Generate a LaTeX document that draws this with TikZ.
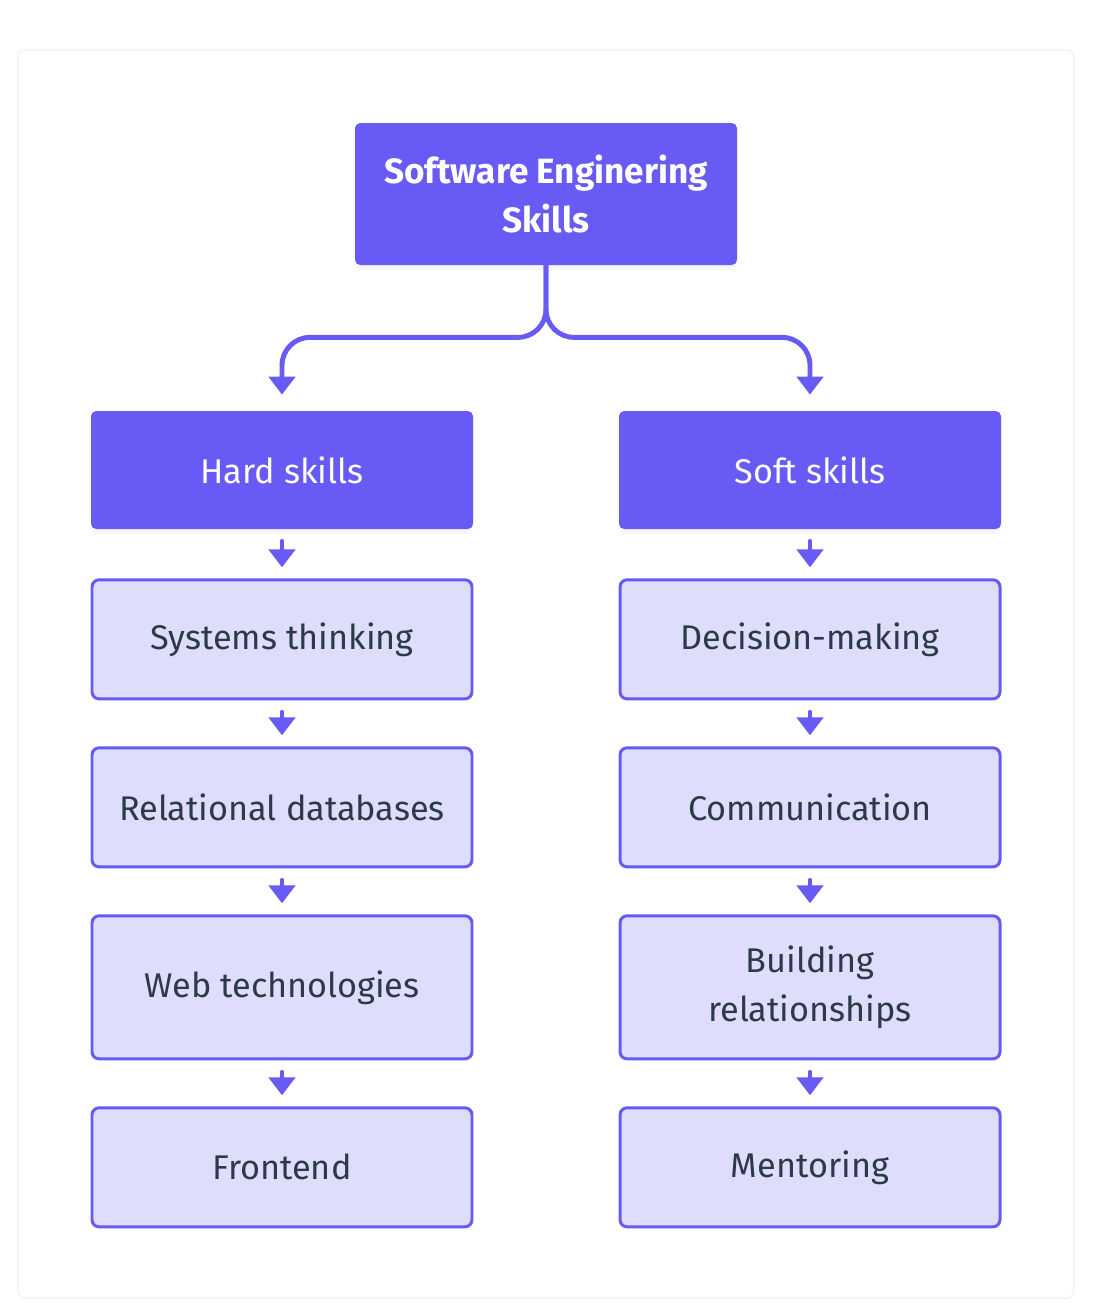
\documentclass[tikz,border=0pt]{standalone}
\usepackage{fontspec}
\setmainfont{Fira Sans}
\usetikzlibrary{positioning, arrows.meta, shadows}

\definecolor{skillblue}{HTML}{675AF5}
\definecolor{skilllight}{HTML}{DEDEFC}
\definecolor{skilltext}{HTML}{2C3A47}

\tikzset{
  topic/.style={rectangle, rounded corners=3pt, fill=skillblue, text=white,
    minimum width=7.64cm, minimum height=2.36cm, align=center,
    font=\fontsize{19.5}{27}\selectfont,
    drop shadow={opacity=0.07, shadow xshift=0pt, shadow yshift=-3pt}},
  skill/.style={rectangle, rounded corners=4pt, draw=skillblue, line width=1.7pt,
    fill=skilllight, text=skilltext, minimum width=7.6cm, minimum height=2.38cm,
    align=center, font=\fontsize{19.5}{27.5}\selectfont},
  tallskill/.style={skill, minimum height=2.86cm},
  link/.style={skillblue, line width=2.8pt, line cap=round,
    -{Triangle[width=0.52cm,length=0.36cm]},
    shorten <=0.24cm, shorten >=0.22cm}
}

\begin{document}
\begin{tikzpicture}[node distance=0.92cm]
  \useasboundingbox (0,0) rectangle (21.84,-26.32);
  \fill[white] (0,0) rectangle (21.84,-26.32);
  \draw[black!4, line width=1pt, fill=white, rounded corners=4pt]
    (0.36,-1.0) rectangle (21.48,-25.96);

  % top of the tree
  \node[topic, minimum height=2.84cm, font=\fontsize{20}{27.5}\selectfont\bfseries]
    (skills) at (10.92,-3.88) {Software Enginering\\Skills};
  \node[topic] (hard) at (5.64,-9.40) {Hard skills};
  \node[topic] (soft) at (16.20,-9.40) {Soft skills};

  % hard skills
  \node[skill, below=0.98cm of hard] (systems) {Systems thinking};
  \node[skill, below=of systems] (databases) {Relational databases};
  \node[tallskill, below=of databases] (web) {Web technologies};
  \node[skill, below=of web] (frontend) {Frontend};

  % soft skills
  \node[skill, below=0.98cm of soft] (decision) {Decision-making};
  \node[skill, below=of decision] (communication) {Communication};
  \node[tallskill, below=of communication] (relations) {Building\\relationships};
  \node[skill, below=of relations] (mentoring) {Mentoring};

  \draw[link, rounded corners=0.56cm, shorten <=0pt, shorten >=0.32cm]
    (skills.south) -- ++(0,-1.44) -| (hard.north);
  \draw[link, rounded corners=0.56cm, shorten <=0pt, shorten >=0.32cm]
    (skills.south) -- ++(0,-1.44) -| (soft.north);

  \draw[link] (hard) -- (systems);
  \draw[link] (systems) -- (databases);
  \draw[link] (databases) -- (web);
  \draw[link] (web) -- (frontend);

  \draw[link] (soft) -- (decision);
  \draw[link] (decision) -- (communication);
  \draw[link] (communication) -- (relations);
  \draw[link] (relations) -- (mentoring);
\end{tikzpicture}
\end{document}
